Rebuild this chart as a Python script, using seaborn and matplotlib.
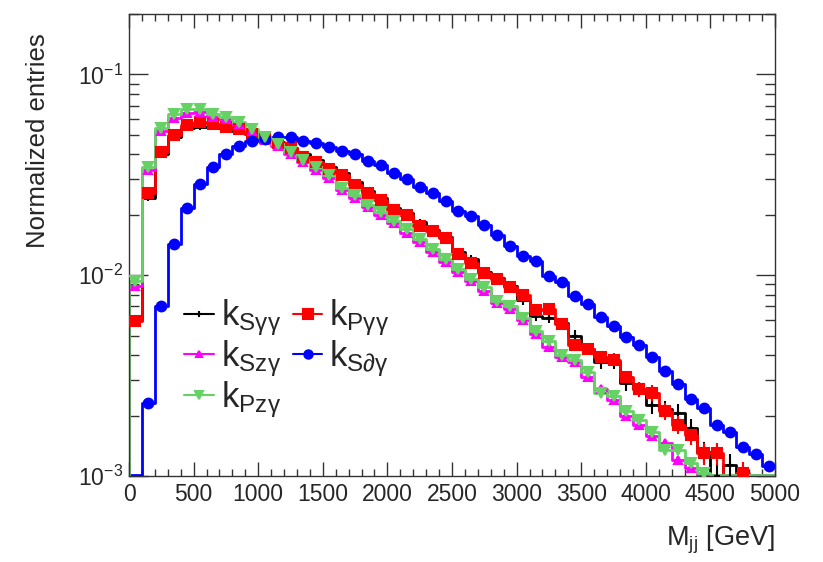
import numpy as np
import pandas as pd
import matplotlib
matplotlib.use("Agg")
import matplotlib.pyplot as plt
import seaborn as sns
from matplotlib.lines import Line2D
from matplotlib.ticker import MultipleLocator, LogLocator, NullFormatter, LogFormatterMathtext

# ---------------- data ----------------
x_low, x_high, n_bins = 0.0, 5000.0, 50
n_events = 50000.0

k_S_gg = [0.0060, 0.0243, 0.0400, 0.0490, 0.0540, 0.0550, 0.0555, 0.0540, 0.0525, 0.0505,
          0.0480, 0.0460, 0.0432, 0.0400, 0.0375, 0.0345, 0.0322, 0.0290, 0.0262, 0.0242,
          0.0215, 0.0203, 0.0185, 0.0168, 0.0155, 0.0130, 0.0121, 0.0104, 0.0097, 0.0088,
          0.0075, 0.0063, 0.0061, 0.0058, 0.0050, 0.0043, 0.0037, 0.0037, 0.0029, 0.0027,
          0.00226, 0.00216, 0.00207, 0.00173, 0.00132, 0.00100, 0.00114, 0.0, 0.0, 0.0]

k_P_gg = [0.0059, 0.0257, 0.0413, 0.0497, 0.0562, 0.0580, 0.0569, 0.0548, 0.0533, 0.0507,
          0.0483, 0.0455, 0.0430, 0.0390, 0.0368, 0.0339, 0.0316, 0.0283, 0.0257, 0.0237,
          0.0212, 0.0200, 0.0175, 0.0167, 0.0153, 0.0127, 0.0115, 0.0102, 0.0096, 0.0087,
          0.0080, 0.0067, 0.0068, 0.0057, 0.0045, 0.0043, 0.0039, 0.0038, 0.0031, 0.0027,
          0.0026, 0.0021, 0.0018, 0.0016, 0.0013, 0.0013, 0.0, 0.00103, 0.0, 0.0]

k_S_zg = [0.0088, 0.0335, 0.0521, 0.0606, 0.0640, 0.0650, 0.0616, 0.0600, 0.0565, 0.0520,
          0.0470, 0.0440, 0.0400, 0.0365, 0.0335, 0.0305, 0.0266, 0.0243, 0.0218, 0.0200,
          0.0181, 0.0163, 0.0147, 0.0131, 0.0117, 0.0104, 0.0094, 0.0083, 0.0073, 0.0068,
          0.0060, 0.0051, 0.0044, 0.0039, 0.0037, 0.0031, 0.0027, 0.0024, 0.0020, 0.0018,
          0.00158, 0.00146, 0.00120, 0.00110, 0.00098, 0.0, 0.0, 0.0, 0.0, 0.0]

k_S_dg = [0.0006, 0.00232, 0.00703, 0.01425, 0.0216, 0.0286, 0.0346, 0.0401, 0.0440, 0.0464,
          0.0478, 0.0488, 0.0488, 0.0466, 0.0456, 0.0433, 0.0418, 0.0401, 0.0371, 0.0356,
          0.0324, 0.0300, 0.0275, 0.0256, 0.0233, 0.0210, 0.0197, 0.0178, 0.0158, 0.0140,
          0.0125, 0.0118, 0.0099, 0.0092, 0.0079, 0.0072, 0.0062, 0.0056, 0.0049, 0.0045,
          0.0039, 0.00335, 0.00288, 0.00243, 0.00219, 0.0018, 0.00166, 0.0014, 0.00129, 0.00112]

k_P_zg = [0.0094, 0.0346, 0.0541, 0.0638, 0.0671, 0.0670, 0.0638, 0.0614, 0.0580, 0.0537,
          0.0488, 0.0452, 0.0411, 0.0377, 0.0346, 0.0314, 0.0271, 0.0251, 0.0224, 0.0207,
          0.0187, 0.0170, 0.0151, 0.0135, 0.0120, 0.0107, 0.0096, 0.0087, 0.0074, 0.0070,
          0.0061, 0.0053, 0.0047, 0.0040, 0.0038, 0.0033, 0.0026, 0.0025, 0.0021, 0.0019,
          0.00165, 0.00135, 0.00135, 0.00116, 0.00103, 0.0, 0.0, 0.0, 0.0, 0.0]

labels = ["k$_{\\mathrm{Sγγ}}$", "k$_{\\mathrm{Pγγ}}$", "k$_{\\mathrm{Szγ}}$",
          "k$_{\\mathrm{S∂γ}}$", "k$_{\\mathrm{Pzγ}}$"]
x_label = "M$_{\\mathrm{jj}}$ [GeV]"
y_label = "Normalized entries"

# ---------------- style ----------------
sns.set_theme(style="ticks")
plt.rcParams["font.family"] = ["Liberation Sans", "DejaVu Sans"]
plt.rcParams["mathtext.fontset"] = "custom"
plt.rcParams["mathtext.rm"] = "Liberation Sans"
plt.rcParams["mathtext.it"] = "Liberation Sans:italic"
plt.rcParams["mathtext.bf"] = "Liberation Sans:bold"
plt.rcParams["mathtext.sf"] = "Liberation Sans"

series = [
    dict(vals=k_S_gg, color="black", marker="+", ms=5, err=True),
    dict(vals=k_P_gg, color="#ff0000", marker="s", ms=7.5, err=True),
    dict(vals=k_S_zg, color="#ff00ff", marker="^", ms=6, err=False),
    dict(vals=k_S_dg, color="#0000ff", marker="o", ms=7, err=False),
    dict(vals=k_P_zg, color="#66d266", marker="v", ms=7, err=False),
]

fig = plt.figure(figsize=(8.23, 5.62), dpi=100)
ax = fig.add_axes([129 / 823, 1 - 476 / 562, (775 - 129) / 823, (476 - 14) / 562])

edges = np.linspace(x_low, x_high, n_bins + 1)
centers = 0.5 * (edges[:-1] + edges[1:])
y_min, y_max = 1e-3, 0.2
floor = 1.012e-3

for s in series:
    v = np.asarray(s["vals"], dtype=float)
    drawn = np.where(v > floor, v, floor)
    xs = np.concatenate([[edges[0]], edges])
    ys = np.concatenate([[y_min * 0.5], drawn, [drawn[-1]]])
    df = pd.DataFrame({"x": xs, "y": ys})
    sns.lineplot(data=df, x="x", y="y", ax=ax, color=s["color"], lw=2.0,
                 drawstyle="steps-post", estimator=None, sort=False, legend=False)
    mask = v > 0
    yerr = np.sqrt(v / n_events) if s["err"] else None
    ax.errorbar(centers[mask], v[mask], yerr=(yerr[mask] if yerr is not None else None),
                fmt=s["marker"], color=s["color"], ms=s["ms"], mew=1.5,
                elinewidth=1.5, capsize=0, zorder=3)

ax.set_yscale("log")
ax.set_xlim(x_low, x_high)
ax.set_ylim(y_min, y_max)
ax.set_xlabel("")
ax.set_ylabel("")

ax.xaxis.set_major_locator(MultipleLocator(500))
ax.xaxis.set_minor_locator(MultipleLocator(100))
ax.yaxis.set_major_locator(LogLocator(base=10, numticks=10))
ax.yaxis.set_minor_locator(LogLocator(base=10, subs=np.arange(2, 10), numticks=20))
ax.yaxis.set_minor_formatter(NullFormatter())
ax.yaxis.set_major_formatter(LogFormatterMathtext())

ax.tick_params(axis="x", which="major", direction="in", length=10, width=1.0,
               top=True, bottom=True, labelsize=16.5, pad=5, color="#333333")
ax.tick_params(axis="x", which="minor", direction="in", length=5, width=1.0,
               top=True, bottom=True, color="#333333")
ax.tick_params(axis="y", which="major", direction="in", length=14, width=1.0,
               left=True, right=True, labelsize=16.5, pad=4, color="#333333")
ax.tick_params(axis="y", which="minor", direction="in", length=7, width=1.0,
               left=True, right=True, color="#333333")
for sp in ax.spines.values():
    sp.set_visible(True)
    sp.set_linewidth(1.0)
    sp.set_color("#333333")

handles = [Line2D([0], [0], color=s["color"], marker=s["marker"], ms=s["ms"] - 1,
                  lw=1.5, mew=1.5) for s in series]
order = [0, 2, 4, 1, 3]
ax.legend([handles[i] for i in order], [labels[i] for i in order], ncol=2,
          loc="upper left", bbox_to_anchor=(0.064, 0.416), frameon=False,
          fontsize=25, handlelength=0.85, handletextpad=0.2, columnspacing=0.35,
          labelspacing=0.0, borderaxespad=0.0, numpoints=1)

fig.text(38 / 823, 1 - 33 / 562, y_label, rotation=90, ha="center", va="top", fontsize=18.5)
fig.text(775 / 823, 1 - 540 / 562, x_label, ha="right", va="center", fontsize=19.5)

fig.savefig("out.png", dpi=100)
